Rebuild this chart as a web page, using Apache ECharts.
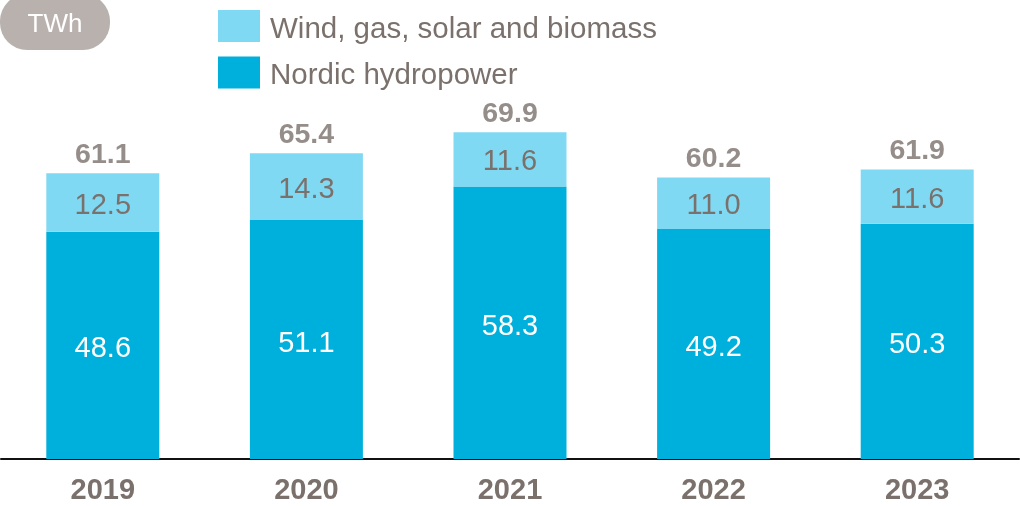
<!DOCTYPE html>
<html>
<head>
<meta charset="utf-8">
<script src="https://cdn.jsdelivr.net/npm/echarts@6/dist/echarts.min.js"></script>
<style>
  html, body { margin: 0; padding: 0; background: #ffffff; }
  #chart { width: 1020px; height: 506px; }
</style>
</head>
<body>
<div id="chart"></div>
<script>
// Annual generation, TWh
const years = ['2019', '2020', '2021', '2022', '2023'];
const hydro = [48.6, 51.1, 58.3, 49.2, 50.3];
const otherSources = [12.5, 14.3, 11.6, 11.0, 11.6];
const totals = [61.1, 65.4, 69.9, 60.2, 61.9];

const FONT = '"Liberation Sans", Arial, sans-serif';
const GREY = '#7b716c';
const LIGHT = '#80d9f3';
const DARK = '#00b0dc';

const chart = echarts.init(document.getElementById('chart'), null, { renderer: 'canvas' });

chart.setOption({
  animation: false,
  backgroundColor: '#ffffff',
  textStyle: { fontFamily: FONT },
  grid: { left: 1, right: 1, top: 85, bottom: 47, containLabel: false },
  legend: {
    orient: 'vertical',
    left: 218,
    top: 10,
    padding: 0,
    itemWidth: 42,
    itemHeight: 32,
    itemGap: 12,
    icon: 'rect',
    selectedMode: false,
    data: ['Wind, gas, solar and biomass', 'Nordic hydropower'],
    formatter: '{t|{name}}',
    textStyle: {
      fontFamily: FONT, fontSize: 29.5, color: GREY,
      rich: { t: { fontFamily: FONT, fontSize: 29.5, color: GREY, padding: [7, 0, 0, 5] } }
    }
  },
  xAxis: {
    type: 'category',
    data: years,
    axisLine: { show: true, lineStyle: { color: '#111111', width: 2 } },
    axisTick: { show: false },
    axisLabel: { margin: 17, fontFamily: FONT, fontSize: 29, fontWeight: 'bold', color: GREY }
  },
  yAxis: {
    type: 'value',
    min: 0,
    max: 80,
    show: false,
    splitLine: { show: false }
  },
  series: [
    {
      name: 'Nordic hydropower',
      type: 'bar',
      stack: 'gen',
      barWidth: 113,
      data: hydro,
      itemStyle: { color: DARK },
      label: {
        show: true, position: 'inside', offset: [0, 4], fontFamily: FONT, fontSize: 29, color: '#ffffff',
        formatter: p => p.value.toFixed(1)
      }
    },
    {
      name: 'Wind, gas, solar and biomass',
      type: 'bar',
      stack: 'gen',
      barWidth: 113,
      data: otherSources,
      itemStyle: { color: LIGHT },
      label: {
        show: true, position: 'inside', offset: [0, 3], fontFamily: FONT, fontSize: 29, color: GREY,
        formatter: p => p.value.toFixed(1)
      }
    },
    {
      name: 'Total',
      type: 'scatter',
      data: totals,
      symbolSize: 0,
      silent: true,
      z: 10,
      label: {
        show: true, position: 'top', distance: 4,
        fontFamily: FONT, fontSize: 28.5, fontWeight: 'bold', color: GREY,
        formatter: p => p.value.toFixed(1)
      }
    }
  ],
  graphic: [
    {
      type: 'rect',
      left: 0,
      top: -6,
      shape: { width: 110, height: 56, r: 27 },
      style: { fill: '#b9b1ad' },
      silent: true
    },
    {
      type: 'text',
      x: 55,
      y: 25,
      style: {
        text: 'TWh', fill: '#ffffff', fontFamily: FONT, fontSize: 26,
        align: 'center', verticalAlign: 'middle'
      },
      silent: true
    }
  ]
});
</script>
</body>
</html>
